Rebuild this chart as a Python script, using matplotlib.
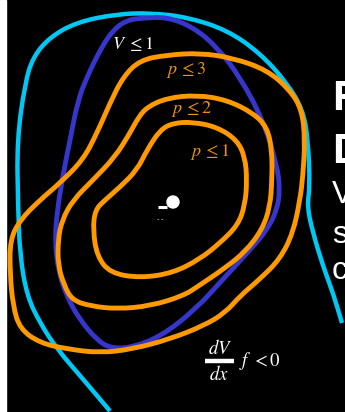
import numpy as np
import matplotlib
matplotlib.use("Agg")
import matplotlib.pyplot as plt
from matplotlib.path import Path
from matplotlib.patches import PathPatch, Circle, Rectangle

plt.rcParams["mathtext.fontset"] = "stix"

# Level-set outlines (pixel-space coordinates of the sketch)
v_level_x = [143, 167, 193, 217, 240, 263, 277, 280, 277, 267, 250, 225, 195, 160, 130, 110,
             97, 80, 67, 58, 55, 57, 62, 70, 78, 87, 100, 113, 127]
v_level_y = [18, 17, 27, 47, 77, 120, 165, 190, 210, 230, 250, 277, 310, 337, 348, 348,
             340, 320, 297, 270, 240, 213, 180, 140, 100, 77, 50, 30, 20]

p3_x = [140, 167, 200, 233, 267, 290, 302, 305, 303, 300, 293, 280, 260, 240, 225, 203, 170,
        133, 100, 67, 40, 20, 13, 10, 10, 20, 40, 60, 83, 97, 110, 123]
p3_y = [60, 55, 53, 58, 70, 90, 110, 140, 175, 200, 233, 259, 279, 296, 313, 326, 339,
        349, 353, 349, 343, 329, 306, 273, 240, 220, 200, 183, 160, 133, 103, 77]

p2_x = [147, 167, 197, 227, 253, 267, 272, 272, 270, 262, 245, 225, 200, 183, 150, 117, 90,
        72, 64, 58, 58, 62, 73, 93, 115, 130, 138]
p2_y = [107, 98, 95, 100, 113, 127, 150, 180, 207, 230, 252, 268, 285, 296, 306, 309, 306,
        300, 285, 265, 240, 220, 200, 180, 157, 133, 118]

p1_x = [160, 173, 193, 217, 237, 245, 247, 245, 238, 220, 200, 173, 140, 110, 97, 93, 95,
        105, 120, 137, 147]
p1_y = [130, 123, 122, 127, 140, 157, 180, 205, 225, 243, 259, 273, 278, 273, 256, 230, 210,
        200, 187, 170, 150]

# Boundary of the region where dV/dx f < 0 (open curve)
boundary_x = [110, 83, 57, 40, 27, 20, 18, 17, 25, 33, 50, 77, 117, 150, 187, 227, 260, 287,
              303, 308, 310, 307, 313, 323, 333, 342]
boundary_y = [411, 379, 349, 323, 296, 256, 206, 140, 83, 57, 37, 22, 14, 13, 17, 30, 53, 83,
              110, 140, 187, 206, 233, 266, 293, 323]

equilibrium = (173, 202)

labels = [r"$V\ \leq 1$", r"$p\,\leq 3$", r"$p\,\leq 2$", r"$p\,\leq 1$"]
label_x = [133, 186, 191, 210]
label_y = [44, 70, 109, 152]
label_colors = ["white", "#f0950a", "#f0950a", "#f0950a"]

side_text = ["R", "D", "V", "s", "c"]
side_y = [110, 163, 203, 243, 279]
side_size = [31, 31, 23, 23, 23]
side_weight = ["bold", "bold", "normal", "normal", "normal"]

W, H = 345, 412
fig = plt.figure(figsize=(W / 100, H / 100), dpi=100, facecolor="black")
ax = fig.add_axes([0, 0, 1, 1])
ax.set_xlim(0, W)
ax.set_ylim(H, 0)
ax.set_facecolor("black")
ax.axis("off")

# white margin strip on the left
ax.add_patch(Rectangle((0, 0), 6, H, color="white", zorder=0))


def smooth_closed(xs, ys):
    pts = np.column_stack([xs, ys]).astype(float)
    n = len(pts)
    mids = (pts + np.roll(pts, -1, axis=0)) / 2
    verts = [mids[-1]]
    codes = [Path.MOVETO]
    for i in range(n):
        verts += [pts[i], mids[i]]
        codes += [Path.CURVE3, Path.CURVE3]
    return Path(verts, codes)


def smooth_open(xs, ys):
    pts = np.column_stack([xs, ys]).astype(float)
    n = len(pts)
    verts = [pts[0]]
    codes = [Path.MOVETO]
    for i in range(1, n - 1):
        verts += [pts[i], (pts[i] + pts[i + 1]) / 2]
        codes += [Path.CURVE3, Path.CURVE3]
    verts.append(pts[-1])
    codes.append(Path.LINETO)
    return Path(verts, codes)


ax.add_patch(PathPatch(smooth_open(boundary_x, boundary_y), fill=False,
                       edgecolor="#00c8f5", lw=3.2, capstyle="butt", zorder=2))
ax.add_patch(PathPatch(smooth_closed(v_level_x, v_level_y), fill=False,
                       edgecolor="#3636cc", lw=3.5, zorder=3))
for xs, ys in [(p3_x, p3_y), (p2_x, p2_y), (p1_x, p1_y)]:
    ax.add_patch(PathPatch(smooth_closed(xs, ys), fill=False,
                           edgecolor="#ff9900", lw=3.5, zorder=4))

# equilibrium point
ax.add_patch(Circle(equilibrium, 6, color="white", zorder=5))
ax.plot([equilibrium[0] - 15, equilibrium[0] - 6], [equilibrium[1] + 5, equilibrium[1] + 5],
        color="white", lw=2.2, solid_capstyle="butt", zorder=5)
ax.plot([equilibrium[0] - 16, equilibrium[0] - 10], [equilibrium[1] + 17, equilibrium[1] + 17],
        color="#888888", lw=0.8, ls=(0, (1.5, 2)), zorder=5)

for t, x, y, c in zip(labels, label_x, label_y, label_colors):
    ax.text(x, y, t, color=c, fontsize=13, ha="center", va="center", zorder=6)

# dV/dx f < 0
ax.text(220, 349, r"$dV$", color="white", fontsize=13.5, ha="center", va="center", zorder=6)
ax.plot([205, 234], [360.5, 360.5], color="white", lw=3.2, solid_capstyle="butt", zorder=6)
ax.text(219, 375, r"$dx$", color="white", fontsize=13.5, ha="center", va="center", zorder=6)
ax.text(239, 361, r"$f\ <0$", color="white", fontsize=13.5, ha="left", va="center", zorder=6)

for t, y, s, w in zip(side_text, side_y, side_size, side_weight):
    ax.text(332, y, t, color="white", fontsize=s, fontfamily="Liberation Sans",
            fontweight=w, ha="left", va="baseline", zorder=6)

fig.savefig("out.png", dpi=100, facecolor="black")
